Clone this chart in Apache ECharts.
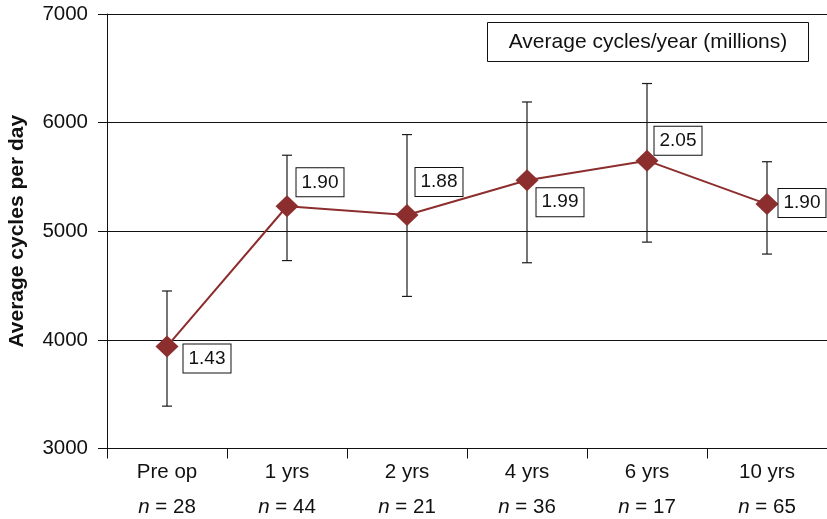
<!DOCTYPE html>
<html>
<head>
<meta charset="utf-8">
<script src="https://cdn.jsdelivr.net/npm/echarts@6/dist/echarts.min.js"></script>
<style>
  html, body { margin: 0; padding: 0; background: #fff; }
  #chart { width: 827px; height: 519px; }
</style>
</head>
<body>
<div id="chart"></div>
<script>
// Follow-up groups and their sample sizes
const categories = ['Pre op', '1 yrs', '2 yrs', '4 yrs', '6 yrs', '10 yrs'];
const sampleSizes = [28, 44, 21, 36, 17, 65];

// Mean cycles per day with error bar extents
const meanCycles = [3940, 5230, 5150, 5470, 5650, 5250];
const lowCycles  = [3390, 4730, 4400, 4710, 4900, 4790];
const highCycles = [4450, 5700, 5890, 6190, 6360, 5640];

// Average cycles per year (millions) shown beside each point
const cyclesPerYear = ['1.43', '1.90', '1.88', '1.99', '2.05', '1.90'];

// Value axis ticks
const yTicks = [3000, 4000, 5000, 6000, 7000];

const FONT = 'Liberation Sans, Arial, Helvetica, sans-serif';
const RED = '#8c2e2e';
const INK = '#111';

// Where each annotation box sits relative to its point
const labelOffsets = [[40, 12], [33, -24], [32, -33], [33, 22], [31, -20], [35, -1]];

const chart = echarts.init(document.getElementById('chart'), null, { renderer: 'canvas' });

const lineData = meanCycles.map((v, i) => ({
  value: v,
  label: {
    show: true,
    position: 'inside',
    offset: labelOffsets[i],
    formatter: cyclesPerYear[i]
  }
}));

const errData = categories.map((c, i) => [i, lowCycles[i], highCycles[i]]);

chart.setOption({
  animation: false,
  backgroundColor: '#fff',
  grid: {
    left: 107, right: 0, top: 14, bottom: 70.5,
    containLabel: false,
    outerBoundsMode: 'none'
  },
  xAxis: {
    type: 'category',
    data: categories,
    boundaryGap: true,
    axisLine: { show: true, lineStyle: { color: INK, width: 1 } },
    axisTick: { show: true, length: 10, inside: false, lineStyle: { color: INK, width: 1 } },
    splitLine: { show: false },
    axisLabel: {
      margin: 6,
      interval: 0,
      formatter: (val, idx) => '{c|' + val + '}\n{i|n}{c| = ' + sampleSizes[idx] + '}',
      rich: {
        c: { fontFamily: FONT, fontSize: 20.5, color: INK, lineHeight: 35 },
        i: { fontFamily: FONT, fontSize: 20.5, color: INK, lineHeight: 35, fontStyle: 'italic' }
      }
    }
  },
  yAxis: {
    type: 'value',
    min: yTicks[0],
    max: yTicks[yTicks.length - 1],
    interval: 1000,
    name: 'Average cycles per day',
    nameLocation: 'middle',
    nameGap: 79,
    nameTextStyle: { fontFamily: FONT, fontSize: 21, fontWeight: 'bold', color: INK },
    axisLine: { show: true, lineStyle: { color: INK, width: 1 } },
    axisTick: { show: true, length: 9, inside: false, lineStyle: { color: INK, width: 1 } },
    splitLine: { show: true, lineStyle: { color: INK, width: 1 } },
    axisLabel: {
      margin: 19,
      fontFamily: FONT,
      fontSize: 20.5,
      color: INK,
      formatter: (v) => String(v)
    }
  },
  graphic: [
    {
      type: 'group',
      left: 487,
      top: 22,
      children: [
        {
          type: 'rect',
          shape: { x: 0, y: 0, width: 321, height: 39 },
          style: { fill: '#fff', stroke: INK, lineWidth: 1 }
        },
        {
          type: 'text',
          x: 160.5,
          y: 19.5,
          style: {
            text: 'Average cycles/year (millions)',
            font: '21px ' + FONT,
            fill: INK,
            align: 'center',
            verticalAlign: 'middle'
          }
        }
      ]
    }
  ],
  series: [
    {
      type: 'custom',
      name: 'range',
      z: 2,
      data: errData,
      renderItem: (params, api) => {
        const x = api.value(0);
        const lo = api.coord([x, api.value(1)]);
        const hi = api.coord([x, api.value(2)]);
        const cap = 5;
        const style = { stroke: '#1a1a1a', lineWidth: 1.2 };
        return {
          type: 'group',
          children: [
            { type: 'line', shape: { x1: lo[0], y1: lo[1], x2: hi[0], y2: hi[1] }, style },
            { type: 'line', shape: { x1: hi[0] - cap, y1: hi[1], x2: hi[0] + cap, y2: hi[1] }, style },
            { type: 'line', shape: { x1: lo[0] - cap, y1: lo[1], x2: lo[0] + cap, y2: lo[1] }, style }
          ]
        };
      }
    },
    {
      type: 'line',
      name: 'Average cycles per day',
      z: 3,
      data: lineData,
      symbol: 'diamond',
      symbolSize: [23, 22],
      lineStyle: { color: RED, width: 2 },
      itemStyle: { color: RED },
      label: {
        fontFamily: FONT,
        fontSize: 19,
        color: INK,
        backgroundColor: '#fff',
        borderColor: INK,
        borderWidth: 1,
        padding: [5, 5, 4, 5],
        lineHeight: 19
      }
    }
  ]
});
</script>
</body>
</html>
